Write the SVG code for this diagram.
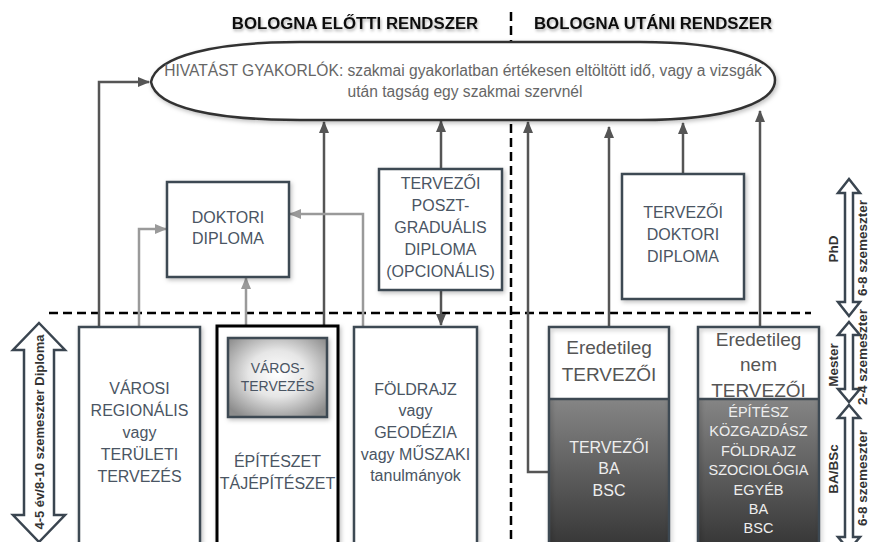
<svg xmlns="http://www.w3.org/2000/svg" width="871" height="542" viewBox="0 0 871 542">
<defs>
<style>
.t{font-family:"Liberation Sans",Arial,sans-serif;text-anchor:middle}
.bx{font-size:16px;fill:#4a5563}
.box{fill:#fff;stroke:#3d4852;stroke-width:2.5}
.dk{stroke:#555;stroke-width:2.5;fill:none}
.gr{stroke:#9a9a9a;stroke-width:2.5;fill:none}
.dash{stroke:#000;stroke-width:2.5;stroke-dasharray:9 5;fill:none}
.lbl{font-size:13.5px;font-weight:bold;fill:#333}
.dbl{fill:#fff;stroke:#3a4550;stroke-width:2.5;stroke-linejoin:miter}
.wt{fill:#eee}
</style>
<marker id="ad" markerUnits="userSpaceOnUse" markerWidth="12" markerHeight="12" refX="11" refY="6" orient="auto">
<path d="M0,1 L12,6 L0,11 Z" fill="#555"/>
</marker>
<marker id="ag" markerUnits="userSpaceOnUse" markerWidth="12" markerHeight="12" refX="11" refY="6" orient="auto">
<path d="M0,1 L12,6 L0,11 Z" fill="#9a9a9a"/>
</marker>
<filter id="sh" x="-10%" y="-10%" width="130%" height="130%">
<feDropShadow dx="1.5" dy="2" stdDeviation="2" flood-color="#000" flood-opacity="0.25"/>
</filter>
<filter id="tsh" x="-5%" y="-30%" width="110%" height="160%">
<feDropShadow dx="1" dy="2" stdDeviation="1.5" flood-color="#000" flood-opacity="0.3"/>
</filter>
<radialGradient id="rg" cx="50%" cy="45%" r="65%">
<stop offset="0" stop-color="#ffffff"/>
<stop offset="0.45" stop-color="#e6e6e6"/>
<stop offset="1" stop-color="#8c8c8c"/>
</radialGradient>
<linearGradient id="dg" x1="0" y1="0" x2="0" y2="1">
<stop offset="0" stop-color="#858585"/>
<stop offset="1" stop-color="#353535"/>
</linearGradient>
</defs>

<g id="titles">
<text class="t" x="355" y="29" style="font-size:16.8px;font-weight:bold" fill="#111" filter="url(#tsh)">BOLOGNA ELŐTTI RENDSZER</text>
<text class="t" x="653" y="29" style="font-size:16.8px;font-weight:bold" fill="#111" filter="url(#tsh)">BOLOGNA UTÁNI RENDSZER</text>
</g>

<g id="dividers">
<line class="dash" x1="511" y1="12" x2="511" y2="542"/>
<line class="dash" x1="49" y1="313" x2="811" y2="313"/>
</g>

<g id="connectors">
<path class="dk" d="M99,327 V82 H149" marker-end="url(#ad)"/>
<path class="dk" d="M324,326 V122" marker-end="url(#ad)"/>
<path class="dk" d="M441,169 V121" marker-end="url(#ad)"/>
<path class="dk" d="M441,290 V325" marker-end="url(#ad)"/>
<path class="dk" d="M549,472 H528 V122" marker-end="url(#ad)"/>
<path class="dk" d="M609,327 V127" marker-end="url(#ad)"/>
<path class="dk" d="M683,174 V123" marker-end="url(#ad)"/>
<path class="dk" d="M760,327 V111" marker-end="url(#ad)"/>
<path class="gr" d="M139,327 V229 H166" marker-end="url(#ag)"/>
<path class="gr" d="M246,326 V278" marker-end="url(#ag)"/>
<path class="gr" d="M363,327 V214 H290" marker-end="url(#ag)"/>
</g>

<g id="professional">
<path d="M151,82 C156,56 215,42 300,42 L640,42 C730,42 775,60 775,80 C775,102 730,120 640,120 L300,120 C215,120 156,108 151,82 Z" fill="#fff" stroke="#333" stroke-width="2.5" filter="url(#sh)"/>
<text class="t" x="463" y="76" style="font-size:15.6px" fill="#666">HIVATÁST GYAKORLÓK: szakmai gyakorlatban értékesen eltöltött idő, vagy a vizsgák</text>
<text class="t" x="465" y="97" style="font-size:15.6px" fill="#666">után tagság egy szakmai szervnél</text>
</g>

<g id="doktori">
<rect class="box" x="167" y="182" width="122" height="95" filter="url(#sh)"/>
<text class="t bx" x="228" y="223">DOKTORI</text>
<text class="t bx" x="228" y="244">DIPLOMA</text>
</g>

<g id="posztgradualis">
<rect class="box" x="379" y="169" width="123" height="121" filter="url(#sh)"/>
<text class="t bx" x="440.5" y="189">TERVEZŐI</text>
<text class="t bx" x="440.5" y="211">POSZT-</text>
<text class="t bx" x="440.5" y="233">GRADUÁLIS</text>
<text class="t bx" x="440.5" y="255">DIPLOMA</text>
<text class="t bx" x="440.5" y="277">(OPCIONÁLIS)</text>
</g>

<g id="tervezoi-doktori">
<rect class="box" x="622" y="174" width="122" height="125" filter="url(#sh)"/>
<text class="t bx" x="683" y="218">TERVEZŐI</text>
<text class="t bx" x="683" y="240">DOKTORI</text>
<text class="t bx" x="683" y="262">DIPLOMA</text>
</g>

<g id="varosi">
<rect class="box" x="79" y="327" width="121" height="222" filter="url(#sh)"/>
<text class="t bx" x="139.5" y="394">VÁROSI</text>
<text class="t bx" x="139.5" y="416">REGIONÁLIS</text>
<text class="t bx" x="139.5" y="438">vagy</text>
<text class="t bx" x="139.5" y="460">TERÜLETI</text>
<text class="t bx" x="139.5" y="482">TERVEZÉS</text>
</g>

<g id="epiteszet">
<rect x="217" y="326" width="121" height="223" fill="#fff" stroke="#000" stroke-width="3" filter="url(#sh)"/>
<text class="t bx" x="277.5" y="467">ÉPÍTÉSZET</text>
<text class="t bx" x="277.5" y="489">TÁJÉPÍTÉSZET</text>
</g>

<g id="varostervezes">
<rect x="228" y="338" width="99" height="79" fill="url(#rg)" stroke="#3d4852" stroke-width="2.5" filter="url(#sh)"/>
<text class="t" x="277.5" y="373" style="font-size:14px" fill="#4a5563">VÁROS-</text>
<text class="t" x="277.5" y="391" style="font-size:14px" fill="#4a5563">TERVEZÉS</text>
</g>

<g id="foldrajz">
<rect class="box" x="354" y="327" width="123" height="222" filter="url(#sh)"/>
<text class="t bx" x="415.5" y="395">FÖLDRAJZ</text>
<text class="t bx" x="415.5" y="416">vagy</text>
<text class="t bx" x="415.5" y="438">GEODÉZIA</text>
<text class="t bx" x="415.5" y="460">vagy MŰSZAKI</text>
<text class="t bx" x="415.5" y="481">tanulmányok</text>
</g>

<g id="eredetileg-tervezoi">
<rect x="549" y="399" width="120" height="150" fill="url(#dg)"/>
<rect x="549" y="327" width="120" height="222" fill="none" stroke="#3d4852" stroke-width="2.5" filter="url(#sh)"/>
<line x1="549" y1="399" x2="669" y2="399" stroke="#3d4852" stroke-width="2.5"/>
<text class="t" x="609" y="354" style="font-size:19px" fill="#555">Eredetileg</text>
<text class="t" x="609" y="381" style="font-size:19px" fill="#555">TERVEZŐI</text>
<text class="t wt" x="609" y="453" style="font-size:16px">TERVEZŐI</text>
<text class="t wt" x="609" y="474" style="font-size:16px">BA</text>
<text class="t wt" x="609" y="496" style="font-size:16px">BSC</text>
</g>

<g id="eredetileg-nem-tervezoi">
<rect x="698" y="399" width="121" height="150" fill="url(#dg)"/>
<rect x="698" y="327" width="121" height="222" fill="none" stroke="#3d4852" stroke-width="2.5" filter="url(#sh)"/>
<line x1="698" y1="399" x2="819" y2="399" stroke="#3d4852" stroke-width="2.5"/>
<text class="t" x="758.5" y="346" style="font-size:19px" fill="#555">Eredetileg</text>
<text class="t" x="758.5" y="371" style="font-size:19px" fill="#555">nem</text>
<text class="t" x="758.5" y="397" style="font-size:19px" fill="#555">TERVEZŐI</text>
<text class="t wt" x="758.5" y="417" style="font-size:14.5px">ÉPÍTÉSZ</text>
<text class="t wt" x="758.5" y="436.4" style="font-size:14.5px">KÖZGAZDÁSZ</text>
<text class="t wt" x="758.5" y="455.8" style="font-size:14.5px">FÖLDRAJZ</text>
<text class="t wt" x="758.5" y="475.2" style="font-size:14.5px">SZOCIOLÓGIA</text>
<text class="t wt" x="758.5" y="494.6" style="font-size:14.5px">EGYÉB</text>
<text class="t wt" x="758.5" y="514" style="font-size:14.5px">BA</text>
<text class="t wt" x="758.5" y="533.4" style="font-size:14.5px">BSC</text>
</g>

<g id="scale-left">
<path class="dbl" d="M39,323 L65,350 L54,350 L54,515 L65,515 L39,542 L13,515 L24,515 L24,350 L13,350 Z"/>
<text class="t" transform="translate(44,432) rotate(-90)" style="font-size:13px;font-weight:bold" fill="#333">4-5 év/8-10 szemeszter Diploma</text>
</g>

<g id="scale-right">
<path class="dbl" d="M849,179 L860,193 L853,193 L853,302 L860,302 L849,316 L838,302 L845,302 L845,193 L838,193 Z"/>
<path class="dbl" d="M849,322 L860,335 L853,335 L853,389 L860,389 L849,402 L838,389 L845,389 L845,335 L838,335 Z"/>
<path class="dbl" d="M849,405 L860,418 L853,418 L853,537 L860,537 L849,550 L838,537 L845,537 L845,418 L838,418 Z"/>
<text class="t lbl" transform="translate(838,249) rotate(-90)">PhD</text>
<text class="t lbl" transform="translate(867,248) rotate(-90)">6-8 szemeszter</text>
<text class="t lbl" transform="translate(838,365) rotate(-90)">Mester</text>
<text class="t lbl" transform="translate(867,357) rotate(-90)">2-4 szemeszter</text>
<text class="t lbl" transform="translate(838,469) rotate(-90)">BA/BSc</text>
<text class="t lbl" transform="translate(867,478) rotate(-90)">6-8 szemeszter</text>
</g>
</svg>
